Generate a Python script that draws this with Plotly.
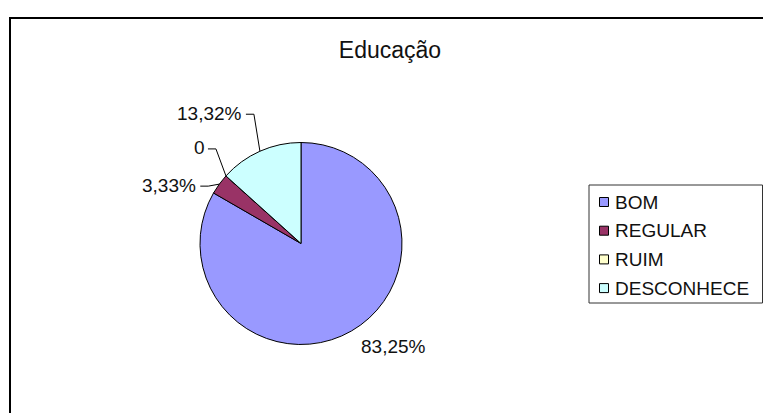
import math
import plotly.graph_objects as go

# Chart data
title_text = "Educação"
categories = ["BOM", "REGULAR", "RUIM", "DESCONHECE"]
values = [83.25, 3.33, 0.0, 13.32]
colors = ["#9999FF", "#993366", "#FFFFCC", "#CCFFFF"]

W, H = 763, 413
FONT = "Liberation Sans, Arial, sans-serif"

# Pie geometry (pixels)
cx, cy, r = 301.0, 243.5, 101.0

# Label placement relative to the slice edge point (pixels): label centre, and
# whether a leader line with a short horizontal elbow is drawn
label_offsets = [(41.5, 16.0), (-50.0, 1.0), (-26.0, -28.0), (-50.0, -38.0)]
label_halfwidths = [34, 28, 5, 33]
show_leader = [False, True, True, True]


def px(x):
    return x / W


def py(y):
    return 1 - y / H


def fmt(v):
    if v == 0:
        return "0"
    return f"{v:.2f}".replace(".", ",") + "%"


fig = go.Figure()
fig.add_trace(go.Pie(
    labels=categories,
    values=values,
    sort=False,
    direction="clockwise",
    rotation=0,
    textinfo="none",
    hoverinfo="label+percent",
    marker=dict(colors=colors, line=dict(color="#000000", width=1)),
    domain=dict(x=[px(cx - r), px(cx + r)], y=[py(cy + r), py(cy - r)]),
    showlegend=False,
))

shapes = []
annotations = []

# Outer chart frame
shapes.append(dict(type="rect", xref="paper", yref="paper",
                   x0=px(10), y0=py(18), x1=px(W + 10), y1=py(H + 10),
                   line=dict(color="#000000", width=2)))

# Data labels with leader lines
total = sum(values)
cum = 0.0
for i, v in enumerate(values):
    mid = (cum + v / 2) / total
    cum += v
    ang = 2 * math.pi * mid
    ex = cx + r * math.sin(ang)
    ey = cy - r * math.cos(ang)
    lx = ex + label_offsets[i][0]
    ly = ey + label_offsets[i][1]
    annotations.append(dict(
        x=px(lx), y=py(ly), xref="paper", yref="paper",
        text=fmt(v), showarrow=False, xanchor="center", yanchor="middle",
        font=dict(family=FONT, size=19, color="#111111"),
    ))
    if show_leader[i]:
        x_start = lx + label_halfwidths[i] + 3
        x_elbow = x_start + 8
        path = (f"M {px(x_start)} {py(ly + 1)} L {px(x_elbow)} {py(ly + 1)} "
                f"L {px(ex)} {py(ey)}")
        shapes.append(dict(type="path", xref="paper", yref="paper", path=path,
                           line=dict(color="#000000", width=1)))

# Legend box with colour keys
leg_left, leg_top, leg_right, leg_bottom = 589, 185, 762.5, 303
shapes.append(dict(type="rect", xref="paper", yref="paper",
                   x0=px(leg_left), y0=py(leg_bottom), x1=px(leg_right), y1=py(leg_top),
                   line=dict(color="#333333", width=1), fillcolor="#FFFFFF", layer="below"))
row0, row_step = 202.0, 28.7
for i, (cat, col) in enumerate(zip(categories, colors)):
    yc = row0 + row_step * i
    shapes.append(dict(type="rect", xref="paper", yref="paper",
                       x0=px(599.5), y0=py(yc + 4.5), x1=px(608.5), y1=py(yc - 4.5),
                       fillcolor=col, line=dict(color="#000000", width=1)))
    annotations.append(dict(
        x=px(613), y=py(yc), xref="paper", yref="paper", text=cat,
        showarrow=False, xanchor="left", yanchor="middle",
        font=dict(family=FONT, size=19, color="#111111"),
    ))

fig.update_layout(
    width=W, height=H, autosize=False,
    margin=dict(l=0, r=0, t=0, b=0),
    paper_bgcolor="#FFFFFF", plot_bgcolor="#FFFFFF",
    title=dict(text=title_text, x=px(390), y=py(50), xanchor="center", yanchor="middle",
               font=dict(family=FONT, size=23, color="#111111")),
    shapes=shapes,
    annotations=annotations,
)

fig.write_html("out.html", config={"displayModeBar": False})
